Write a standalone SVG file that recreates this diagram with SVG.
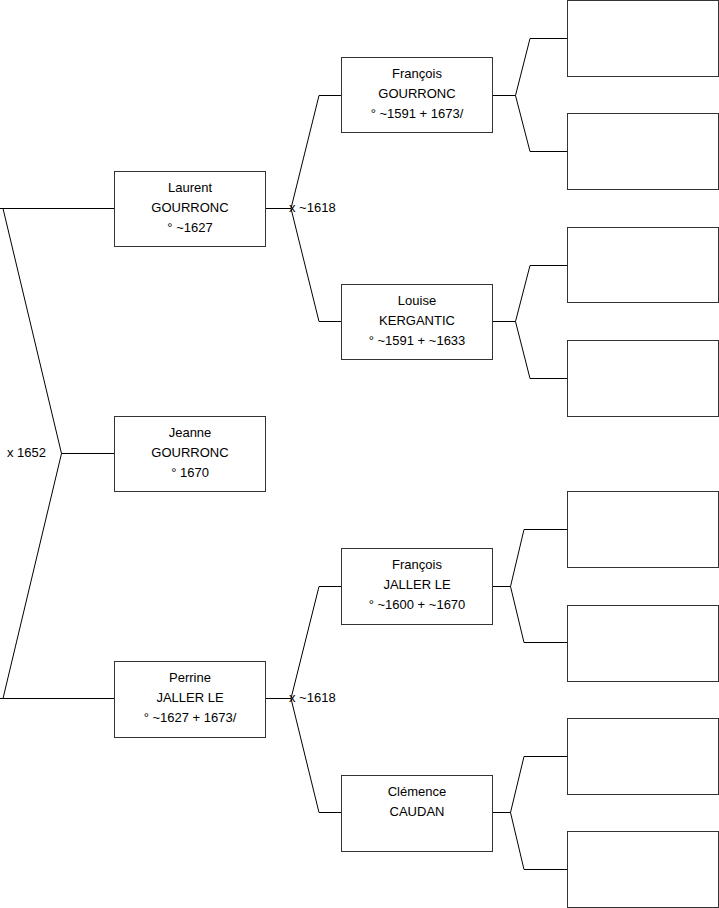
<svg xmlns="http://www.w3.org/2000/svg" width="719" height="908" viewBox="0 0 719 908">
<style>
.box{fill:#fff;stroke:#333;stroke-width:1}
.ln{fill:none;stroke:#000;stroke-width:1}
text{font-family:"Liberation Sans",Arial,sans-serif;font-size:13px;fill:#000}
.c{text-anchor:middle}
</style>
<rect width="719" height="908" fill="#fff"/>
<g id="connectors">
<path class="ln" d="M0 208.5H114.5M3 208.5L61.5 453.5L3 698.5M61.5 453.5H114.5M0 698.5H114.5"/>
<path class="ln" d="M265.5 208.5H291M291 208.5L319 95.5H341.5M291 208.5L319 321.5H341.5"/>
<path class="ln" d="M265.5 698.5H291M291 698.5L319 586.5H341.5M291 698.5L319 812.5H341.5"/>
<path class="ln" d="M492.5 95.5H515.5M515.5 95.5L530 38.5H567.5M515.5 95.5L530 151.5H567.5"/>
<path class="ln" d="M492.5 321.5H515.5M515.5 321.5L530 265.5H567.5M515.5 321.5L530 378.5H567.5"/>
<path class="ln" d="M492.5 586.5H510.5M510.5 586.5L524 529.5H567.5M510.5 586.5L524 642.5H567.5"/>
<path class="ln" d="M492.5 812.5H510.5M510.5 812.5L524 756.5H567.5M510.5 812.5L524 869.5H567.5"/>
<text x="7" y="457">x 1652</text>
<text x="289" y="211.5">x ~1618</text>
<text x="289" y="701.5">x ~1618</text>
</g>
<g id="laurent"><rect class="box" x="114.5" y="171.5" width="151" height="75"/>
<text class="c" x="190" y="192">Laurent</text><text class="c" x="190" y="212">GOURRONC</text><text class="c" x="190" y="232">° ~1627</text></g>
<g id="jeanne"><rect class="box" x="114.5" y="416.5" width="151" height="75"/>
<text class="c" x="190" y="437">Jeanne</text><text class="c" x="190" y="457">GOURRONC</text><text class="c" x="190" y="477">° 1670</text></g>
<g id="perrine"><rect class="box" x="114.5" y="661.5" width="151" height="76"/>
<text class="c" x="190" y="682">Perrine</text><text class="c" x="190" y="702">JALLER LE</text><text class="c" x="190" y="722">° ~1627 + 1673/</text></g>
<g id="francois-g"><rect class="box" x="341.5" y="57.5" width="151" height="75"/>
<text class="c" x="417" y="78">François</text><text class="c" x="417" y="98">GOURRONC</text><text class="c" x="417" y="118">° ~1591 + 1673/</text></g>
<g id="louise"><rect class="box" x="341.5" y="284.5" width="151" height="75"/>
<text class="c" x="417" y="305">Louise</text><text class="c" x="417" y="325">KERGANTIC</text><text class="c" x="417" y="345">° ~1591 + ~1633</text></g>
<g id="francois-j"><rect class="box" x="341.5" y="548.5" width="151" height="76"/>
<text class="c" x="417" y="569">François</text><text class="c" x="417" y="589">JALLER LE</text><text class="c" x="417" y="609">° ~1600 + ~1670</text></g>
<g id="clemence"><rect class="box" x="341.5" y="775.5" width="151" height="76"/>
<text class="c" x="417" y="796">Clémence</text><text class="c" x="417" y="816">CAUDAN</text></g>
<g id="gg1"><rect class="box" x="567.5" y="0.5" width="151" height="76"/></g>
<g id="gg2"><rect class="box" x="567.5" y="113.5" width="151" height="76"/></g>
<g id="gg3"><rect class="box" x="567.5" y="227.5" width="151" height="75"/></g>
<g id="gg4"><rect class="box" x="567.5" y="340.5" width="151" height="76"/></g>
<g id="gg5"><rect class="box" x="567.5" y="491.5" width="151" height="76"/></g>
<g id="gg6"><rect class="box" x="567.5" y="605.5" width="151" height="76"/></g>
<g id="gg7"><rect class="box" x="567.5" y="718.5" width="151" height="76"/></g>
<g id="gg8"><rect class="box" x="567.5" y="831.5" width="151" height="76"/></g>
</svg>
